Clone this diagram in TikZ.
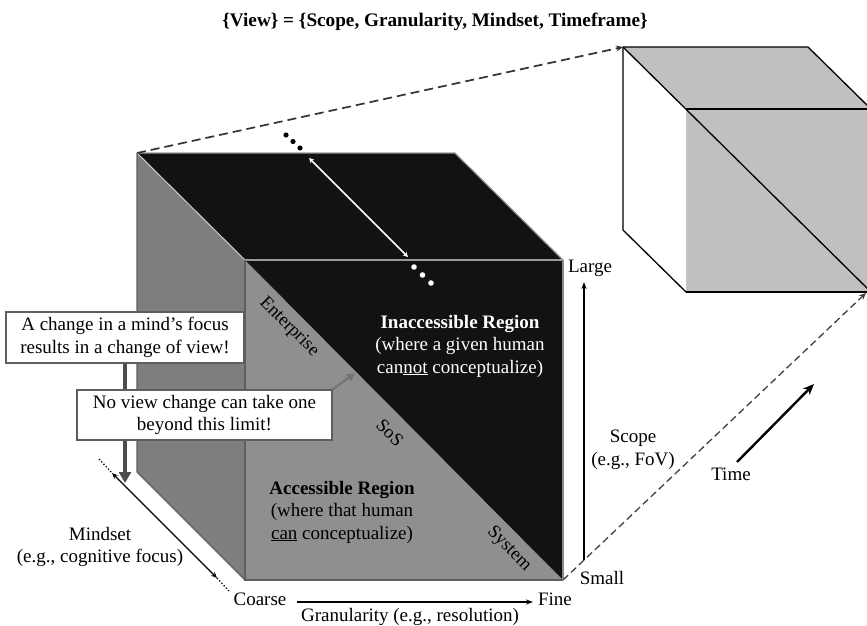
\documentclass[tikz,border=0pt]{standalone}
\usepackage{fontspec}
\setmainfont{Liberation Serif}
\usetikzlibrary{arrows.meta}
\definecolor{ink}{HTML}{121212}
\definecolor{sideface}{HTML}{7E7E7E}
\definecolor{frontface}{HTML}{8F8F8F}
\definecolor{lightface}{HTML}{C0C0C0}
\definecolor{edgegray}{HTML}{5E5E5E}
\begin{document}
\begin{tikzpicture}[x=1pt,y=-1pt,
  font=\fontsize{19}{22.5}\selectfont,
  callout/.style={draw=edgegray, line width=1.4pt, fill=white, align=center, inner sep=2pt},
  diaglabel/.style={rotate=-45, font=\fontsize{18.5}{20}\selectfont},
  dashlink/.style={draw=black!80, line width=1.7pt, dash pattern=on 9pt off 5pt, -{Stealth[length=7pt,width=6pt]}},
  axisarrow/.style={line width=1.4pt, -{Stealth[length=7pt,width=5pt]}},
  cubeedge/.style={line width=1.3pt, draw=black}]
\useasboundingbox (0,0) rectangle (867,626);
\clip (0,0) rectangle (867,626);

% title
\node[font=\fontsize{19.2}{22}\selectfont\bfseries] (title) at (435,22)
  {\{View\} = \{Scope, Granularity, Mindset, Timeframe\}};

% main cube corners
\coordinate (A) at (137,153);
\coordinate (B) at (455,153);
\coordinate (C) at (563,260);
\coordinate (D) at (245,260);
\coordinate (E) at (245,580);
\coordinate (F) at (563,580);
\coordinate (G) at (137,472);

% small cube corners (time slice)
\coordinate (P) at (623,47);
\coordinate (Q) at (808,47);
\coordinate (R) at (871,109);
\coordinate (S) at (686,109);
\coordinate (T) at (686,292);
\coordinate (U) at (871,292);
\coordinate (V) at (623,230);
\coordinate (Uend) at (866,293);

% small cube faces
\fill[lightface] (P) -- (Q) -- (R) -- (S) -- cycle;
\fill[lightface] (S) -- (R) -- (U) -- (T) -- cycle;
\fill[white] (P) -- (S) -- (T) -- (V) -- cycle;
\draw[cubeedge] (P) -- (Q) -- (R);
\draw[cubeedge] (S) -- (R);
\draw[cubeedge] (T) -- (U);
\draw[cubeedge] (P) -- (V) -- (T);
\draw[cubeedge] (P) -- (U);

% main cube faces
\fill[sideface] (G) -- (A) -- (D) -- (E) -- cycle;
\fill[ink] (A) -- (B) -- (C) -- (D) -- cycle;
\fill[frontface] (D) -- (E) -- (F) -- cycle;
\fill[ink] (D) -- (C) -- (F) -- cycle;
\draw[edgegray, line width=1.2pt] (A) -- (G) -- (E);
\draw[black!40, line width=1.2pt] (A) -- (B) -- (C);
\draw[black!40, line width=1.2pt] (D) -- (C);
\draw[black!20, line width=1pt] (A) -- (D);
\draw[edgegray, line width=1.4pt] (D) -- (E) -- (F);
\draw[black!45, line width=1.2pt] (C) -- (F);

% projection lines to the time slice
\draw[dashlink] (A) -- (P);
\draw[dashlink, draw=black!75, line width=1.3pt, dash pattern=on 7pt off 4pt] (F) -- (Uend);

% continuation dots and scope span across the top face
\foreach \p/\q in {286/135, 293/141.5, 300/148}
  \fill[black] (\p,\q) circle (2.6pt);
\foreach \p/\q in {414/267, 422.5/275, 431/283}
  \fill[white] (\p,\q) circle (2.8pt);
\coordinate (spanA) at (309,158);
\coordinate (spanB) at (408,257);
\draw[white, line width=1.5pt, {Stealth[length=5pt,width=5pt]}-{Stealth[length=5pt,width=5pt]}] (spanA) -- (spanB);

% region labels
\node[text=white, align=center] (inacc) at (460,346)
  {\textbf{Inaccessible Region}\\(where a given human\\can\underline{not} conceptualize)};
\node[align=center] (acc) at (342,512)
  {\textbf{Accessible Region}\\(where that human\\\underline{can} conceptualize)};

\node[diaglabel] (ent) at (289,327) {Enterprise};
\node[diaglabel] (sos) at (390,433) {SoS};
\node[diaglabel] (sys) at (509,549) {System};

% mindset arrow with dotted continuation
\coordinate (mA) at (112,473);
\coordinate (mB) at (217,578);
\coordinate (mA2) at (99,459);
\coordinate (mB2) at (229,591);
\draw[line width=1.3pt, {Stealth[length=6pt,width=5pt]}-{Stealth[length=6pt,width=5pt]}] (mA) -- (mB);
\draw[line width=1.3pt, dotted] (mA2) -- (mA);
\draw[line width=1.3pt, dotted] (mB) -- (mB2);
\node[align=center] (mind) at (100,547) {Mindset\\(e.g., cognitive focus)};

% callouts
\node[callout, minimum width=238pt, minimum height=51pt] (box1) at (125,337.5)
  {A change in a mind’s focus\\results in a change of view!};
\coordinate (focusTip) at (125,483);
\draw[black!70, line width=4pt, -{Triangle[length=11pt,width=12pt]}] (box1.south) -- (focusTip);
\node[callout, minimum width=255pt, minimum height=50pt] (box2) at (204.5,415)
  {No view change can take one\\beyond this limit!};
\coordinate (limit) at (355,373);
\draw[black!55, line width=2.2pt, -{Triangle[length=8pt,width=8pt]}] (box2.north east) -- (limit);

% scope axis
\node (large) at (590,268) {Large};
\node (small) at (602,578) {Small};
\coordinate (scopeBot) at (584,560);
\coordinate (scopeTop) at (584,282);
\draw[axisarrow] (scopeBot) -- (scopeTop);
\node[align=center] (scope) at (633,450) {Scope\\(e.g., FoV)};

% granularity axis
\node (coarse) at (260,599) {Coarse};
\node (fine) at (555,599) {Fine};
\coordinate (gA) at (297,602);
\coordinate (gB) at (533,602);
\draw[axisarrow] (gA) -- (gB);
\node (gran) at (410,617) {Granularity (e.g., resolution)};

% time axis
\coordinate (tA) at (737,462);
\coordinate (tB) at (814,384);
\draw[line width=2.4pt, -{Stealth[length=11pt,width=9pt]}] (tA) -- (tB);
\node (time) at (731,474) {Time};
\end{tikzpicture}
\end{document}
